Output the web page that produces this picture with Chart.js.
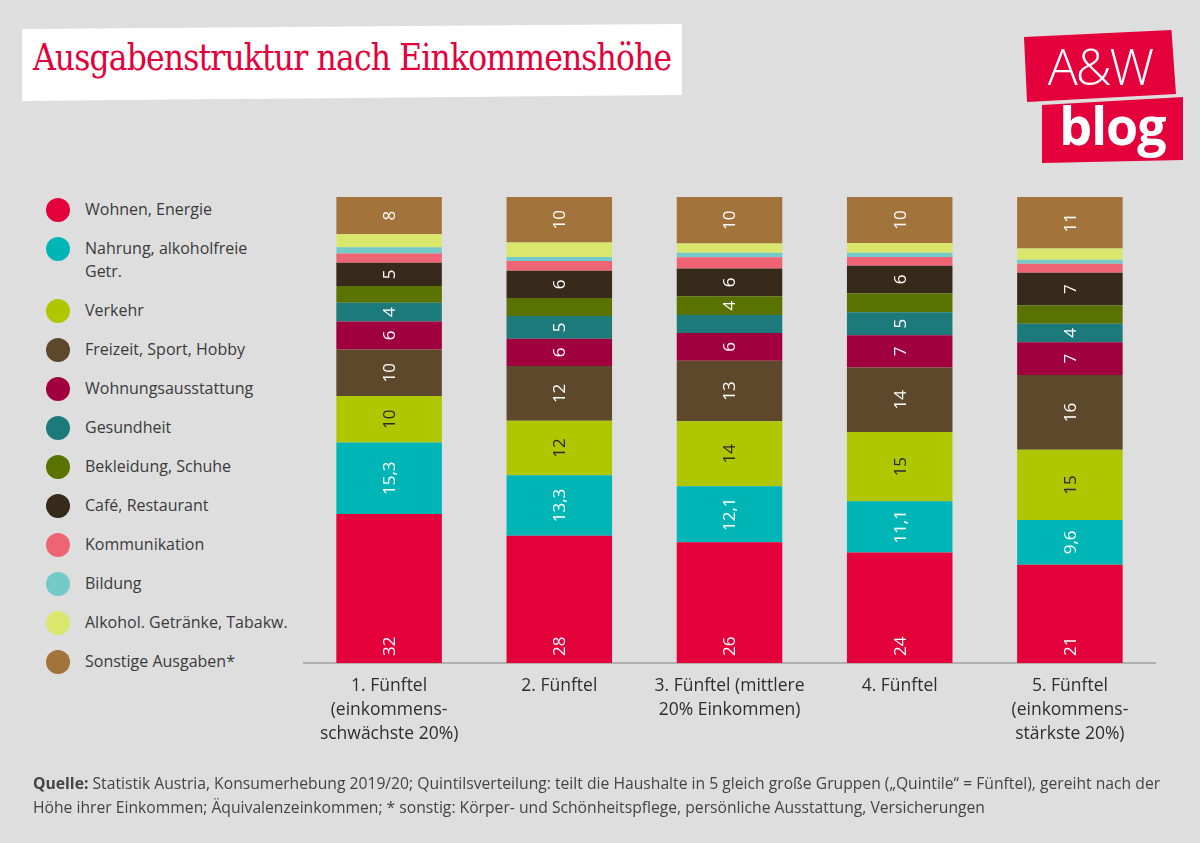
<!DOCTYPE html>
<html>
<head>
<meta charset="utf-8">
<script src="https://cdn.jsdelivr.net/npm/chart.js@4"></script>
<style>
  body { margin: 0; background: #dedede; font-family: "Open Sans", sans-serif; }
  #page { position: relative; width: 1200px; height: 843px; overflow: hidden; }
  #chart { position: absolute; left: 0; top: 0; }
  .titleBox {
    position: absolute; left: 22px; top: 24px; width: 660px; height: 77px; background: #fff;
    clip-path: polygon(0 5px, 100% 0, 100% 71px, 0 100%);
  }
  .titleBox h1 {
    margin: 0; position: absolute; left: 11px; top: 12px; white-space: nowrap; font-weight: normal;
    font: 37px "DejaVu Serif", serif; color: #e4003a; letter-spacing: -1px; transform: scaleX(0.85); transform-origin: left;
  }
  .logo1, .logo2 { position: absolute; background: #e4003a; color: #fff; text-align: center; }
  .logo1 { left: 1024px; top: 30px; width: 152px; height: 72px; clip-path: polygon(0 7px, 97% 0, 100% 64px, 2% 100%); }
  .logo2 { left: 1042px; top: 97px; width: 141px; height: 66px; clip-path: polygon(0 8px, 100% 0, 100% 63px, 0 100%); }
  .logo1 span { font: 300 50px "Open Sans", sans-serif; line-height: 72px; letter-spacing: -2px; }
  .logo2 span { font: 700 52px "Open Sans", sans-serif; line-height: 56px; letter-spacing: -1px; }
  #legend { position: absolute; left: 46px; top: 198px; margin: 0; padding: 0; list-style: none; }
  #legend li { position: relative; padding-left: 39px; font-size: 16px; line-height: 23px; color: #3a3a3a; margin-bottom: 16px; }
  #legend li i { position: absolute; left: 0; top: 0; width: 24px; height: 24px; border-radius: 50%; }
  #source { position: absolute; left: 33px; top: 771px; font-size: 15.7px; line-height: 24px; color: #444; white-space: nowrap; }
</style>
</head>
<body>
<div id="page">
  <div class="titleBox"><h1>Ausgabenstruktur nach Einkommenshöhe</h1></div>
  <div class="logo1"><span>A&amp;W</span></div>
  <div class="logo2"><span>blog</span></div>
  <ul id="legend"></ul>
  <canvas id="chart" width="1200" height="843"></canvas>
  <div id="source"><b>Quelle:</b> Statistik Austria, Konsumerhebung 2019/20; Quintilsverteilung: teilt die Haushalte in 5 gleich große Gruppen („Quintile“ = Fünftel), gereiht nach der<br>Höhe ihrer Einkommen; Äquivalenzeinkommen; * sonstig: Körper- und Schönheitspflege, persönliche Ausstattung, Versicherungen</div>
</div>
<script>
// x-axis groups (multi-line tick labels)
const groups = [
  ["1. Fünftel", "(einkommens-", "schwächste 20%)"],
  ["2. Fünftel"],
  ["3. Fünftel (mittlere", "20% Einkommen)"],
  ["4. Fünftel"],
  ["5. Fünftel", "(einkommens-", "stärkste 20%)"],
];

// spending categories, bottom to top
const categories = [
  "Wohnen, Energie",
  ["Nahrung, alkoholfreie", "Getr."],
  "Verkehr",
  "Freizeit, Sport, Hobby",
  "Wohnungsausstattung",
  "Gesundheit",
  "Bekleidung, Schuhe",
  "Café, Restaurant",
  "Kommunikation",
  "Bildung",
  "Alkohol. Getränke, Tabakw.",
  "Sonstige Ausgaben*",
];
const colors = [
  "#e4003a", "#00b5b6", "#afc700", "#5e482b", "#a1003f", "#1c7b7a",
  "#5a7200", "#372a1a", "#ef6474", "#74cac8", "#d9e86c", "#a2743b",
];

// shares in %, per quintile
const wohnen       = [32, 28, 26, 24, 21];
const nahrung      = [15.3, 13.3, 12.1, 11.1, 9.6];
const verkehr      = [10, 12, 14, 15, 15];
const freizeit     = [10, 12, 13, 14, 16];
const ausstattung  = [6, 6, 6, 7, 7];
const gesundheit   = [4, 5, 3.9, 5, 4];
const bekleidung   = [3.6, 4, 4, 4.1, 3.9];
const cafe         = [5, 6, 6, 6, 7];
const kommunikation = [2, 2.1, 2.4, 1.9, 1.9];
const bildung      = [1.3, 0.9, 1, 0.9, 0.9];
const alkohol      = [2.8, 3.2, 2, 2.1, 2.4];
const sonstige     = [8, 10, 10, 10, 11];

const series = [wohnen, nahrung, verkehr, freizeit, ausstattung, gesundheit,
  bekleidung, cafe, kommunikation, bildung, alkohol, sonstige];

// which segments carry a value label
const showValue = [
  [1, 1, 1, 1, 1], [1, 1, 1, 1, 1], [1, 1, 1, 1, 1], [1, 1, 1, 1, 1],
  [1, 1, 1, 1, 1], [1, 1, 0, 1, 1], [0, 0, 1, 0, 0], [1, 1, 1, 1, 1],
  [0, 0, 0, 0, 0], [0, 0, 0, 0, 0], [0, 0, 0, 0, 0], [1, 1, 1, 1, 1],
];

// bars are drawn as share of their column total so every column reaches 100
const totals = groups.map((g, i) => series.reduce((s, arr) => s + arr[i], 0));

// legend
const legendEl = document.getElementById("legend");
categories.forEach((c, i) => {
  const li = document.createElement("li");
  li.innerHTML = `<i style="background:${colors[i]}"></i>` + [].concat(c).join("<br>");
  legendEl.appendChild(li);
});

// value labels inside the segments
const segmentLabels = {
  id: "segmentLabels",
  afterDatasetsDraw(chart) {
    const ctx = chart.ctx;
    ctx.save();
    ctx.font = '17px "Open Sans", sans-serif';
    chart.data.datasets.forEach((ds, di) => {
      chart.getDatasetMeta(di).data.forEach((bar, i) => {
        if (!showValue[di][i]) return;
        const text = String(series[di][i]).replace(".", ",");
        ctx.fillStyle = di === 2 ? "#2a2a2a" : "#fff";
        ctx.save();
        if (di === 0) {
          ctx.translate(bar.x, bar.base - 7);
          ctx.textAlign = "left";
        } else {
          ctx.translate(bar.x, (bar.y + bar.base) / 2);
          ctx.textAlign = "center";
        }
        ctx.rotate(-Math.PI / 2);
        ctx.textBaseline = "middle";
        ctx.fillText(text, 0, 1);
        ctx.restore();
      });
    });
    ctx.restore();
  },
};

new Chart(document.getElementById("chart"), {
  type: "bar",
  data: {
    labels: groups,
    datasets: series.map((arr, di) => ({
      label: [].concat(categories[di]).join(" "),
      data: arr.map((v, i) => (v / totals[i]) * 100),
      backgroundColor: colors[di],
      borderWidth: 0,
      barPercentage: 0.62,
      categoryPercentage: 1,
    })),
  },
  options: {
    responsive: false,
    animation: false,
    layout: { padding: { left: 304, right: 45, top: 197, bottom: 0 } },
    plugins: { legend: { display: false }, tooltip: { enabled: false } },
    scales: {
      x: {
        stacked: true,
        grid: { display: false, drawTicks: false },
        border: { color: "#b0b0b0", width: 2 },
        ticks: { color: "#2e2e2e", font: { family: "Open Sans", size: 17.5, lineHeight: 1.37 }, padding: 11, maxRotation: 0 },
        afterFit: (s) => { s.height = 180; },
      },
      y: { stacked: true, display: false, min: 0, max: 100 },
    },
  },
  plugins: [segmentLabels],
});
</script>
</body>
</html>
